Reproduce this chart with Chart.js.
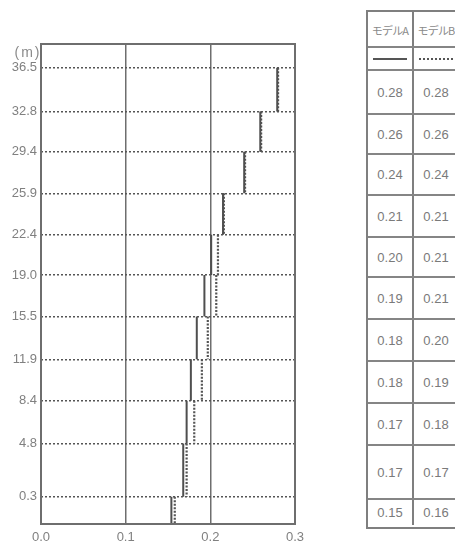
<!DOCTYPE html>
<html>
<head>
<meta charset="utf-8">
<script src="https://cdn.jsdelivr.net/npm/chart.js@4.4.0/dist/chart.umd.min.js"></script>
<style>
    body {
        margin: 0;
        width: 455px;
        height: 545px;
        overflow: hidden;
        position: relative;
        background: #fff;
        font-family: "Liberation Sans", Arial, sans-serif;
    }
    #chartBox {
        position: absolute;
        left: 0;
        top: 0;
        width: 320px;
        height: 545px;
    }
    #valueTable {
        position: absolute;
        left: 366px;
        top: 10px;
        width: 90px;
        border: 2px solid #7f7f7f;
    }
    #valueTable .row {
        position: absolute;
        left: 0;
        right: 0;
        display: flex;
        box-sizing: border-box;
    }
    #valueTable .row + .row {
        border-top: 2px solid #858585;
    }
    #valueTable .cell {
        flex: 1;
        display: flex;
        align-items: center;
        justify-content: center;
        font-size: 13px;
        color: #7a7a7a;
    }
    #valueTable .cell + .cell {
        border-left: 2px solid #7f7f7f;
    }
    #valueTable .head {
        font-family: "Noto Sans CJK JP", sans-serif;
        font-size: 11px;
        letter-spacing: -0.8px;
        color: #8a8a8a;
        white-space: nowrap;
    }
    .sample {
        width: 34px;
        height: 0;
    }
</style>
</head>
<body>
<div id="chartBox"><canvas id="profileChart" width="320" height="545"></canvas></div>
<div id="valueTable"></div>

<script>
// Heights of the level lines (m), top first
const heights = [36.5, 32.8, 29.4, 25.9, 22.4, 19.0, 15.5, 11.9, 8.4, 4.8, 0.3];
const baseHeight = -2.0;
const topHeight = 38.5;

// Values printed in the table, one per layer (top layer first)
const modelA = [0.28, 0.26, 0.24, 0.21, 0.20, 0.19, 0.18, 0.18, 0.17, 0.17, 0.15];
const modelB = [0.28, 0.26, 0.24, 0.21, 0.21, 0.21, 0.20, 0.19, 0.18, 0.17, 0.16];

// Where the vertical lines sit in the plot
const plotA = [0.279, 0.259, 0.240, 0.215, 0.201, 0.193, 0.184, 0.177, 0.172, 0.168, 0.154];
const plotB = [0.280, 0.260, 0.241, 0.216, 0.209, 0.207, 0.197, 0.190, 0.181, 0.172, 0.158];

const xTicks = [0.0, 0.1, 0.2, 0.3];
const seriesNames = ['モデルA', 'モデルB'];
const unitLabel = '(m)';

// One vertical segment per layer, broken apart by null points
function stepPoints(values) {
    const pts = [];
    values.forEach((v, i) => {
        const lower = i + 1 < heights.length ? heights[i + 1] : baseHeight;
        pts.push({ x: v, y: heights[i] }, { x: v, y: lower }, { x: null, y: null });
    });
    return pts;
}

// Frame around the plot and the unit label
const framePlugin = {
    id: 'frame',
    afterDraw(chart) {
        const { ctx, chartArea } = chart;
        ctx.save();
        ctx.strokeStyle = '#6e6e6e';
        ctx.lineWidth = 2;
        ctx.strokeRect(chartArea.left, chartArea.top, chartArea.right - chartArea.left, chartArea.bottom - chartArea.top);
        ctx.fillStyle = '#8a8a8a';
        ctx.font = '14px "Liberation Sans", Arial, sans-serif';
        ctx.letterSpacing = '2px';
        ctx.textAlign = 'center';
        ctx.textBaseline = 'middle';
        ctx.fillText(unitLabel, 28, 53);
        ctx.restore();
    }
};

const chart = new Chart(document.getElementById('profileChart'), {
    type: 'scatter',
    data: {
        datasets: [
            {
                label: seriesNames[0],
                data: stepPoints(plotA),
                showLine: true,
                spanGaps: false,
                borderColor: '#4f4f4f',
                borderWidth: 2,
                pointRadius: 0
            },
            {
                label: seriesNames[1],
                data: stepPoints(plotB),
                showLine: true,
                spanGaps: false,
                borderColor: '#555555',
                borderWidth: 2.2,
                borderDash: [2, 1.5],
                pointRadius: 0
            }
        ]
    },
    options: {
        responsive: false,
        animation: false,
        layout: {
            padding: { top: 44, right: 25, left: 0, bottom: 0 }
        },
        plugins: {
            legend: { display: false },
            tooltip: { enabled: false }
        },
        scales: {
            x: {
                type: 'linear',
                min: 0,
                max: 0.3,
                afterBuildTicks: scale => {
                    scale.ticks = xTicks.map(v => ({ value: v }));
                },
                afterFit: scale => {
                    scale.height = 21;
                },
                ticks: {
                    padding: 6,
                    color: '#808080',
                    font: { family: '"Liberation Sans", Arial, sans-serif', size: 13 },
                    callback: v => Number(v).toFixed(1)
                },
                grid: {
                    color: '#6e6e6e',
                    lineWidth: 1.5,
                    drawTicks: false
                },
                border: { display: false }
            },
            y: {
                type: 'linear',
                min: baseHeight,
                max: topHeight,
                afterBuildTicks: scale => {
                    scale.ticks = heights.map(v => ({ value: v }));
                },
                afterFit: scale => {
                    scale.width = 41;
                },
                ticks: {
                    padding: 4,
                    color: '#808080',
                    font: { family: '"Liberation Sans", Arial, sans-serif', size: 13 },
                    callback: v => Number(v).toFixed(1)
                },
                grid: {
                    color: '#555555',
                    lineWidth: 1.5,
                    drawTicks: false
                },
                border: { display: false, dash: [2, 2] }
            }
        }
    },
    plugins: [framePlugin]
});

// Build the value table so its rows line up with the layers
function buildTable() {
    const table = document.getElementById('valueTable');
    const yScale = chart.scales.y;
    const tableTop = 10;
    const bounds = heights.map(h => Math.round(yScale.getPixelForValue(h)) + 1);
    bounds.push(Math.round(chart.chartArea.bottom) + 1);

    const rows = [];
    rows.push({ top: tableTop, bottom: 46, cells: seriesNames, head: true });
    rows.push({ top: 46, bottom: bounds[0], sample: true });
    modelA.forEach((a, i) => {
        rows.push({ top: bounds[i], bottom: bounds[i + 1], cells: [a.toFixed(2), modelB[i].toFixed(2)] });
    });

    table.style.height = (bounds[bounds.length - 1] - tableTop) + 'px';

    rows.forEach((r, idx) => {
        const row = document.createElement('div');
        row.className = 'row';
        row.style.top = (r.top - tableTop - 2 + (idx === 0 ? 2 : 0)) + 'px';
        row.style.height = (r.bottom - r.top) + 'px';
        for (let c = 0; c < 2; c++) {
            const cell = document.createElement('div');
            cell.className = 'cell' + (r.head ? ' head' : '');
            if (r.sample) {
                const line = document.createElement('div');
                line.className = 'sample';
                line.style.borderTop = c === 0 ? '2px solid #555' : '2px dotted #555';
                cell.appendChild(line);
            } else {
                cell.textContent = r.cells[c];
            }
            row.appendChild(cell);
        }
        table.appendChild(row);
    });
}

buildTable();
</script>
</body>
</html>
